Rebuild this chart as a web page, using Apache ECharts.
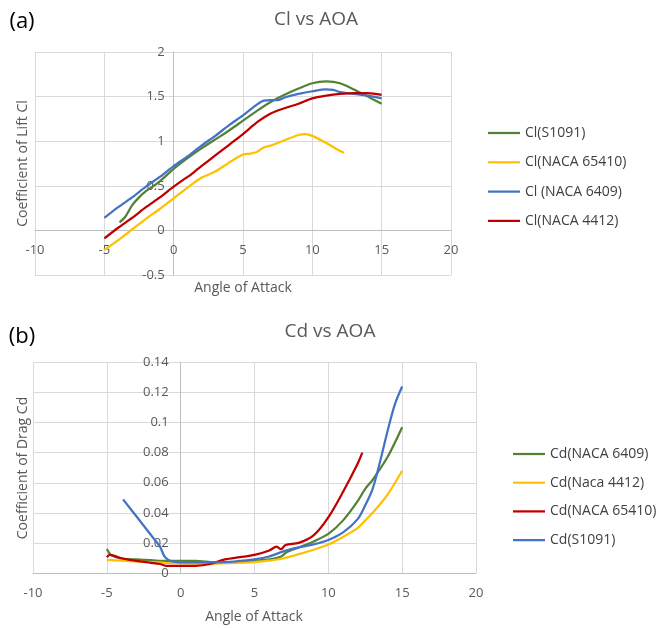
<!DOCTYPE html>
<html>
<head>
<meta charset="utf-8">
<script src="https://cdn.jsdelivr.net/npm/echarts@6/dist/echarts.min.js"></script>
<style>
  html, body { margin: 0; padding: 0; background: #ffffff; }
  #chart { width: 656px; height: 628px; }
</style>
</head>
<body>
<div id="chart"></div>
<script>
// ---- Lift coefficient vs angle of attack ----
const clS1091Aoa = [-3.9, -3.5, -3, -2.5, -2, -1, 0, 1, 2, 3, 4, 5, 6, 7, 8, 9, 10, 11, 12, 13, 14, 15];
const clS1091 = [0.09, 0.15, 0.28, 0.37, 0.44, 0.55, 0.69, 0.81, 0.92, 1.02, 1.12, 1.23, 1.34, 1.44, 1.52, 1.59, 1.65, 1.67, 1.65, 1.58, 1.50, 1.42];

const clNaca65410Aoa = [-5, -4, -3, -2, -1, 0, 1, 2, 3, 4, 5, 5.5, 6, 6.5, 7, 8, 9, 9.5, 10, 11, 12, 12.3];
const clNaca65410 = [-0.22, -0.11, 0.01, 0.13, 0.24, 0.36, 0.48, 0.59, 0.66, 0.76, 0.85, 0.86, 0.88, 0.93, 0.95, 1.01, 1.07, 1.08, 1.06, 0.98, 0.89, 0.87];

const clNaca6409Aoa = [-5, -4, -3, -2, -1, 0, 1, 2, 3, 4, 5, 6, 6.5, 7, 7.5, 8, 9, 10, 11, 11.5, 12, 13, 14, 15];
const clNaca6409 = [0.14, 0.26, 0.37, 0.49, 0.60, 0.72, 0.83, 0.95, 1.06, 1.18, 1.29, 1.41, 1.455, 1.46, 1.46, 1.49, 1.53, 1.56, 1.58, 1.575, 1.55, 1.53, 1.51, 1.48];

const clNaca4412Aoa = [-5, -4, -3, -2, -1, 0, 1, 1.2, 1.6, 2, 3, 4, 5, 6, 7, 8, 9, 10, 11, 12, 13, 14, 15];
const clNaca4412 = [-0.09, 0.03, 0.14, 0.26, 0.37, 0.49, 0.60, 0.62, 0.67, 0.72, 0.84, 0.96, 1.08, 1.21, 1.31, 1.37, 1.42, 1.48, 1.51, 1.53, 1.54, 1.54, 1.52];

// ---- Drag coefficient vs angle of attack ----
const cdNaca6409Aoa = [-5, -4.7, -4, -3, -2, -1, 0, 1, 1.5, 2, 3, 4, 5, 6, 6.8, 7.2, 8, 9, 10, 11, 12, 12.5, 13, 14, 15];
const cdNaca6409 = [0.016, 0.012, 0.0095, 0.009, 0.0085, 0.008, 0.008, 0.008, 0.0078, 0.0073, 0.007, 0.0072, 0.008, 0.009, 0.011, 0.014, 0.017, 0.021, 0.026, 0.035, 0.048, 0.056, 0.062, 0.077, 0.097];

const cdNaca4412Aoa = [-5, -4, -3, -2, -1, 0, 1, 2, 3, 4, 5, 6, 7, 8, 9, 10, 11, 12, 12.5, 13, 14, 15];
const cdNaca4412 = [0.0087, 0.0082, 0.0077, 0.0072, 0.0068, 0.0065, 0.0063, 0.0063, 0.0065, 0.0068, 0.0073, 0.0082, 0.0098, 0.0125, 0.0155, 0.019, 0.024, 0.030, 0.035, 0.040, 0.052, 0.068];

const cdNaca65410Aoa = [-5, -4.8, -4, -3, -2, -1.4, -1, 0, 1, 2, 3, 4, 5, 6, 6.5, 6.8, 7.1, 8, 9, 10, 11, 12, 12.3];
const cdNaca65410 = [0.0105, 0.012, 0.0098, 0.008, 0.0068, 0.006, 0.0048, 0.0047, 0.0048, 0.006, 0.009, 0.0105, 0.012, 0.015, 0.0175, 0.0158, 0.0186, 0.020, 0.025, 0.037, 0.054, 0.073, 0.080];

const cdS1091Aoa = [-3.9, -3, -2, -1.4, -1.1, -0.8, -0.5, 0, 1, 2, 3, 4, 5, 6, 7, 8, 9, 10, 11, 12, 12.5, 13, 13.5, 14, 14.5, 15];
const cdS1091 = [0.049, 0.0377, 0.0251, 0.0175, 0.011, 0.0085, 0.0075, 0.007, 0.007, 0.007, 0.0072, 0.008, 0.009, 0.011, 0.0145, 0.017, 0.019, 0.022, 0.027, 0.036, 0.045, 0.056, 0.074, 0.094, 0.112, 0.124];

// series names
const clNames = ['Cl(S1091)', 'Cl(NACA 65410)', 'Cl (NACA 6409)', 'Cl(NACA 4412)'];
const cdNames = ['Cd(NACA 6409)', 'Cd(Naca 4412)', 'Cd(NACA 65410)', 'Cd(S1091)'];

const GREEN = '#548235', YELLOW = '#FFC000', BLUE = '#4472C4', RED = '#C00000';
const FONT = '"Open Sans", sans-serif';
const GRID_COLOR = '#d9d9d9';
const AXIS_COLOR = '#bfbfbf';
const LABEL_COLOR = '#595959';
// a flat bar used as the legend key, so each entry shows only a line
const LEGEND_LINE = 'path://M0,0 L32,0 L32,2.25 L0,2.25 Z';

function pairs(xs, ys) {
  return xs.map((x, i) => [x, ys[i]]);
}

function lineSeries(name, color, xs, ys, idx) {
  return {
    name: name,
    type: 'line',
    xAxisIndex: idx,
    yAxisIndex: idx,
    data: pairs(xs, ys),
    symbol: 'none',
    smooth: 0.3,
    lineStyle: { color: color, width: 2.25 },
    itemStyle: { color: color },
    emphasis: { disabled: true },
    z: 3
  };
}

// offset pulls an axis inward so it crosses the plot at the other axis's zero
function xAxisCfg(gridIndex, offset, labelMargin) {
  return {
    type: 'value',
    gridIndex: gridIndex,
    position: 'bottom',
    offset: offset,
    min: -10, max: 20, interval: 5,
    axisLine: { show: true, onZero: false, lineStyle: { color: AXIS_COLOR, width: 1 } },
    axisTick: { show: false },
    axisLabel: { color: LABEL_COLOR, fontSize: 13, fontFamily: FONT, margin: labelMargin },
    splitLine: { show: true, lineStyle: { color: GRID_COLOR, width: 1 } }
  };
}

function yAxisCfg(gridIndex, min, max, interval, offset, labelMargin) {
  return {
    type: 'value',
    gridIndex: gridIndex,
    position: 'left',
    offset: offset,
    min: min, max: max, interval: interval,
    axisLine: { show: true, onZero: false, lineStyle: { color: AXIS_COLOR, width: 1 } },
    axisTick: { show: false },
    axisLabel: { color: LABEL_COLOR, fontSize: 13, fontFamily: FONT, margin: labelMargin },
    splitLine: { show: true, lineStyle: { color: GRID_COLOR, width: 1 } }
  };
}

function legendCfg(names, left, top, gap) {
  return {
    data: names,
    icon: LEGEND_LINE,
    orient: 'vertical',
    left: left,
    top: top,
    itemWidth: 32,
    itemHeight: 14,
    itemGap: gap,
    textStyle: { color: '#404040', fontSize: 14, fontFamily: FONT },
    selectedMode: false
  };
}

function text(str, x, y, size, color, rotation) {
  return {
    type: 'text',
    x: x, y: y,
    rotation: rotation || 0,
    style: {
      text: str,
      fill: color,
      font: size + 'px ' + FONT,
      align: 'center',
      verticalAlign: 'middle'
    }
  };
}

const chart = echarts.init(document.getElementById('chart'), null, { renderer: 'canvas' });

chart.setOption({
  animation: false,
  backgroundColor: '#ffffff',
  grid: [
    { left: 35, top: 52, width: 416, height: 223 },
    { left: 33, top: 362.5, width: 443, height: 210.5 }
  ],
  xAxis: [xAxisCfg(0, -44.6, 13), xAxisCfg(1, 0, 14)],
  yAxis: [yAxisCfg(0, -0.5, 2, 0.5, -138.7, 9), yAxisCfg(1, 0, 0.14, 0.02, -147.7, 12)],
  legend: [legendCfg(clNames, 483, 121, 15.3), legendCfg(cdNames, 508, 442, 14.7)],
  series: [
    lineSeries(clNames[0], GREEN, clS1091Aoa, clS1091, 0),
    lineSeries(clNames[1], YELLOW, clNaca65410Aoa, clNaca65410, 0),
    lineSeries(clNames[2], BLUE, clNaca6409Aoa, clNaca6409, 0),
    lineSeries(clNames[3], RED, clNaca4412Aoa, clNaca4412, 0),
    lineSeries(cdNames[0], GREEN, cdNaca6409Aoa, cdNaca6409, 1),
    lineSeries(cdNames[1], YELLOW, cdNaca4412Aoa, cdNaca4412, 1),
    lineSeries(cdNames[2], RED, cdNaca65410Aoa, cdNaca65410, 1),
    lineSeries(cdNames[3], BLUE, cdS1091Aoa, cdS1091, 1)
  ],
  graphic: [
    text('(a)', 22, 22, 22, '#000000'),
    text('Cl vs AOA', 316, 20, 19, LABEL_COLOR),
    text('Coefficient of Lift Cl', 23, 163.5, 14, LABEL_COLOR, Math.PI / 2),
    text('Angle of Attack', 243, 288, 14, LABEL_COLOR),
    text('(b)', 22, 337, 22, '#000000'),
    text('Cd vs AOA', 330, 332, 19, LABEL_COLOR),
    text('Coefficient of Drag Cd', 23, 468, 14, LABEL_COLOR, Math.PI / 2),
    text('Angle of Attack', 254, 617, 14, LABEL_COLOR)
  ]
});
</script>
</body>
</html>
